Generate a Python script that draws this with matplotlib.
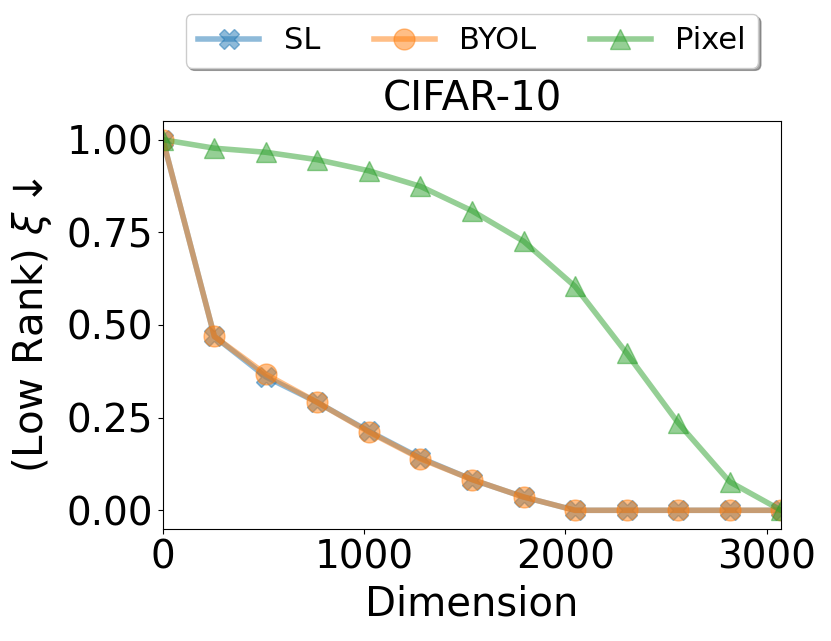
import matplotlib
matplotlib.use("Agg")
import matplotlib.pyplot as plt

dims = [0, 256, 512, 768, 1024, 1280, 1536, 1792, 2048, 2304, 2560, 2816, 3072]
sl = [1.0, 0.469, 0.360, 0.291, 0.213, 0.141, 0.083, 0.036, 0.0, 0.0, 0.0, 0.0, 0.0]
byol = [1.0, 0.469, 0.367, 0.291, 0.211, 0.139, 0.083, 0.036, 0.0, 0.0, 0.0, 0.0, 0.0]
pixel = [1.0, 0.977, 0.966, 0.946, 0.916, 0.874, 0.808, 0.726, 0.604, 0.424, 0.236, 0.077, 0.0]

fig = plt.figure(figsize=(8.31, 6.41), dpi=100)
ax = fig.add_axes([0.196, 0.175, 0.744, 0.636])

ax.plot(dims, sl, marker="X", color="tab:blue", alpha=0.5, lw=4, ms=15, label="SL")
ax.plot(dims, byol, marker="o", color="tab:orange", alpha=0.5, lw=4, ms=15, label="BYOL")
ax.plot(dims, pixel, marker="^", color="tab:green", alpha=0.5, lw=4, ms=15, label="Pixel")

ax.set_xlim(0, 3072)
ax.set_ylim(-0.05, 1.05)
ax.set_yticks([0, 0.25, 0.5, 0.75, 1.0])
ax.set_xticks([0, 1000, 2000, 3000])
ax.tick_params(labelsize=28)
ax.set_xlabel("Dimension", fontsize=29, labelpad=6)
ax.set_ylabel(r"(Low Rank) $\xi\downarrow$", fontsize=29, labelpad=9)
ax.set_title("CIFAR-10", fontsize=29, pad=8)
ax.legend(loc="upper center", bbox_to_anchor=(0.5, 1.3), ncol=3, fontsize=22,
          columnspacing=1.75, shadow=True, fancybox=True)

fig.savefig("out.png", dpi=100)
